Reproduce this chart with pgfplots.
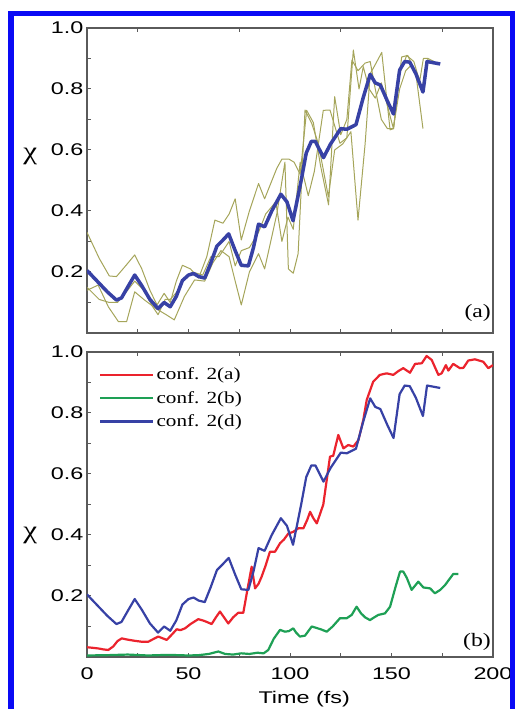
\documentclass[border=0pt]{standalone}
\usepackage{fontspec}
\setmainfont[FakeStretch=1.25]{Liberation Serif}
\newfontfamily\tsf[FakeStretch=1.38]{Liberation Sans}
\usepackage{pgfplots}
\pgfplotsset{compat=1.18}
\usepackage{pgfplotstable}

\definecolor{myblue}{RGB}{55,65,165}
\definecolor{myred}{RGB}{235,35,45}
\definecolor{mygreen}{RGB}{30,160,85}
\definecolor{myolive}{RGB}{165,165,90}
\definecolor{axgray}{RGB}{90,90,90}
\definecolor{frameblue}{RGB}{10,10,245}

% conf. 2(d) average (blue)
\pgfplotstableread{
t chi
0 0.205
5 0.17
10 0.135
14.5 0.108
17 0.115
20 0.15
23.5 0.19
27 0.155
31 0.11
35 0.08
38 0.10
41 0.086
44 0.12
47 0.172
50 0.19
52.5 0.195
55 0.185
58 0.18
61 0.23
64 0.285
67 0.305
69.8 0.325
73 0.27
76 0.222
79.5 0.22
82 0.28
84.5 0.357
87.5 0.348
91 0.40
95.5 0.455
98.5 0.43
101.5 0.368
105.5 0.50
108 0.59
110.5 0.628
112.5 0.628
116.5 0.575
120 0.62
125 0.67
128 0.668
132.5 0.683
136 0.77
139.5 0.848
142 0.82
144.5 0.813
148 0.76
151 0.718
154 0.862
156.5 0.89
159 0.888
162 0.85
165.5 0.79
167.5 0.89
170 0.887
174 0.882
}\blueavg

\pgfplotstableread{
t chi
0 0.33
6 0.245
11 0.187
14.5 0.185
19 0.22
23.5 0.256
27 0.21
31 0.14
34.5 0.092
38 0.13
41 0.10
44 0.17
47 0.222
51 0.21
55 0.18
59 0.25
63 0.37
67 0.36
70 0.39
73 0.44
76 0.305
80 0.40
84.5 0.49
87.5 0.44
93.5 0.54
96 0.57
99.5 0.57
102 0.56
105 0.52
108.2 0.73
111.5 0.69
115 0.55
119 0.42
122 0.775
125 0.65
128 0.70
130.5 0.895
133.5 0.86
137 0.885
139.5 0.89
142 0.80
145 0.70
148 0.67
151 0.67
155 0.905
158 0.91
162 0.85
165.5 0.67
}\oliveA

\pgfplotstableread{
t chi
0 0.14
5.5 0.157
10.5 0.086
15.5 0.037
19.5 0.037
23.5 0.135
28 0.11
34 0.08
39 0.06
43 0.043
48 0.12
53 0.174
58 0.17
62 0.23
66 0.27
70 0.25
73 0.17
76 0.092
80 0.20
84.5 0.26
87.5 0.21
93.5 0.39
97.5 0.56
99.2 0.21
101.6 0.196
104 0.26
107.4 0.731
110.7 0.687
114 0.62
118.9 0.447
122 0.60
126 0.62
130 0.66
133.5 0.37
137 0.62
139.5 0.85
142 0.88
145.2 0.92
149.3 0.666
151 0.67
154 0.85
157.5 0.91
161 0.89
165 0.80
168 0.90
171 0.89
}\oliveB

\pgfplotstableread{
t chi
0 0.15
6 0.11
11 0.10
15 0.10
20 0.14
23.5 0.17
28 0.14
32 0.09
35 0.06
38.5 0.11
41 0.11
45 0.14
48 0.18
52 0.20
57 0.19
61 0.25
65 0.25
70 0.30
73 0.22
76 0.27
80 0.28
84.5 0.33
88 0.39
93 0.43
96 0.30
99 0.38
101.6 0.34
105 0.56
109 0.45
112 0.53
116.4 0.73
119.7 0.731
124.6 0.622
128 0.64
131.2 0.928
134 0.80
136.1 0.873
139 0.80
142 0.77
145 0.82
150.9 0.671
154 0.80
157 0.86
160 0.88
164 0.83
165.7 0.90
168 0.90
}\oliveC

% conf. 2(a) (red)
\pgfplotstableread{
t chi
0 0.032
3 0.03
5.6 0.028
8 0.025
10.5 0.023
13 0.035
15 0.052
17.1 0.061
20 0.057
23.6 0.053
27 0.05
30.2 0.05
33 0.06
35.1 0.067
37 0.062
39.3 0.056
42 0.075
44.2 0.091
46 0.088
48.3 0.094
51 0.108
54.8 0.124
57 0.12
59 0.115
61.4 0.108
63.5 0.13
65.5 0.149
67.5 0.13
69.6 0.11
72 0.13
74.5 0.145
77 0.145
79 0.22
81.1 0.296
82.8 0.225
84.5 0.24
86 0.263
88 0.30
90.1 0.345
92.6 0.345
95.1 0.373
97 0.385
99.2 0.405
101.5 0.41
104.1 0.422
106.6 0.422
108.5 0.45
109.9 0.476
111.5 0.455
113.2 0.438
116.4 0.50
119.7 0.657
121.3 0.66
123.8 0.728
126.3 0.684
128.7 0.695
131.2 0.69
133.7 0.711
136.1 0.777
137.8 0.843
141 0.903
144.3 0.925
147.6 0.93
150.9 0.925
153.5 0.938
155.8 0.947
159.1 0.932
161.6 0.961
164.9 0.963
167.3 0.987
169.8 0.974
173.1 0.925
174.7 0.93
176.8 0.957
178 0.939
180.4 0.961
183.7 0.947
185.4 0.948
187.8 0.972
191.1 0.976
195.2 0.968
197.7 0.947
200 0.957
}\redA

% conf. 2(b) (green)
\pgfplotstableread{
t chi
0 0.005
10 0.006
20 0.008
30 0.005
40 0.007
50 0.005
55 0.006
60 0.01
64.7 0.018
68 0.01
72 0.008
76 0.012
80 0.01
84 0.014
87 0.012
89.3 0.023
92 0.06
95.1 0.089
97.5 0.083
99.5 0.085
101.6 0.094
103 0.08
104.9 0.067
107.4 0.07
110.7 0.1
113.2 0.095
115.5 0.09
118.1 0.083
121 0.1
124.6 0.127
127.9 0.127
130.4 0.138
132.8 0.165
135 0.143
137 0.13
139.4 0.121
141.5 0.13
143.5 0.138
146.8 0.143
149.3 0.165
152 0.23
154.2 0.28
155.8 0.28
157.5 0.26
159.9 0.22
163.2 0.247
165.7 0.228
169 0.225
171.4 0.209
174 0.22
176.4 0.236
178.5 0.255
180.4 0.272
182.9 0.272
}\greenB

\pgfplotsset{
  panel/.style={
    scale only axis, width=406bp, height=305bp,
    xmin=0, xmax=200, ymin=0, ymax=1,
    axis line style={axgray, line width=1.1bp},
    tick style={axgray, line width=1bp},
    major tick length=4bp, minor tick length=4bp,
    tick align=inside, xtick pos=left, ytick pos=left,
    xtick={0,25,50,75,100,125,150,175,200},
    ytick={0.1,0.2,0.3,0.4,0.5,0.6,0.7,0.8,0.9,1.0},
    yticklabels={,0.2,,0.4,,0.6,,0.8,,1.0},
    ticklabel style={font=\tsf\fontsize{17}{19}\selectfont},
    xticklabel style={yshift=-7bp},
    every axis plot/.append style={line join=round},
  },
  toptick/.style={
    scale only axis, width=406bp, height=305bp,
    xmin=0, xmax=200, ymin=0, ymax=1,
    axis x line*=top, axis y line=none,
    axis line style={axgray, line width=1.1bp},
    tick style={axgray, line width=1bp},
    major tick length=4bp, tick align=inside,
    xtick={25,75,125,175}, xticklabels={},
  },
}

\begin{document}
\begin{tikzpicture}
\path[use as bounding box] (0,0) rectangle (515bp,709bp);

% ---------- panel (a)
\begin{axis}[panel, at={(87bp,376bp)}, anchor=south west,
  xticklabels={},
  ylabel={χ},
  every axis y label/.style={at={(rel axis cs:-0.14,0.58)}, anchor=center, font=\fontsize{25}{27}\selectfont},
]
\addplot[myolive, line width=1bp] table[x=t,y=chi] {\oliveA};
\addplot[myolive, line width=1bp] table[x=t,y=chi] {\oliveB};
\addplot[myolive, line width=1bp] table[x=t,y=chi] {\oliveC};
\addplot[myblue, line width=3.5bp] table[x=t,y=chi] {\blueavg};
\node[anchor=east, inner sep=0pt, font=\fontsize{19}{21}\selectfont] at (rel axis cs:0.995,0.066) {(a)};
\end{axis}
\begin{axis}[toptick, at={(87bp,376bp)}, anchor=south west]
\end{axis}

% ---------- panel (b)
\begin{axis}[panel, at={(87bp,52bp)}, anchor=south west,
  xticklabels={0,,50,,100,,150,,200},
  xlabel={\tsf Time (fs)},
  every axis x label/.style={at={(rel axis cs:0.535,0)}, yshift=-42bp, anchor=center, font=\fontsize{17}{19}\selectfont},
  ylabel={χ},
  every axis y label/.style={at={(rel axis cs:-0.14,0.40)}, anchor=center, font=\fontsize{25}{27}\selectfont},
  legend style={draw=none, fill=none, at={(rel axis cs:0.03,0.955)}, anchor=north west,
    font=\fontsize{17}{19}\selectfont, row sep=6bp, inner sep=0pt,
    nodes={inner sep=2bp}},
  legend cell align=left,
  legend image code/.code={\draw[#1] (0bp,0bp) -- (53bp,0bp);},
]
\addplot[myred, line width=2.2bp] table[x=t,y=chi] {\redA};
\addlegendentry{conf. 2(a)}
\addplot[mygreen, line width=2.2bp] table[x=t,y=chi] {\greenB};
\addlegendentry{conf. 2(b)}
\addplot[myblue, line width=2.2bp] table[x=t,y=chi] {\blueavg};
\addlegendentry{conf. 2(d)}
\node[anchor=east, inner sep=0pt, font=\fontsize{19}{21}\selectfont] at (rel axis cs:0.995,0.05) {(b)};
\end{axis}
\begin{axis}[toptick, at={(87bp,52bp)}, anchor=south west]
\end{axis}

% blue frame
\draw[frameblue, line width=5.5bp] (11bp,-10bp) -- (11bp,695.5bp) -- (512.5bp,695.5bp) -- (512.5bp,-10bp);
\end{tikzpicture}
\end{document}
